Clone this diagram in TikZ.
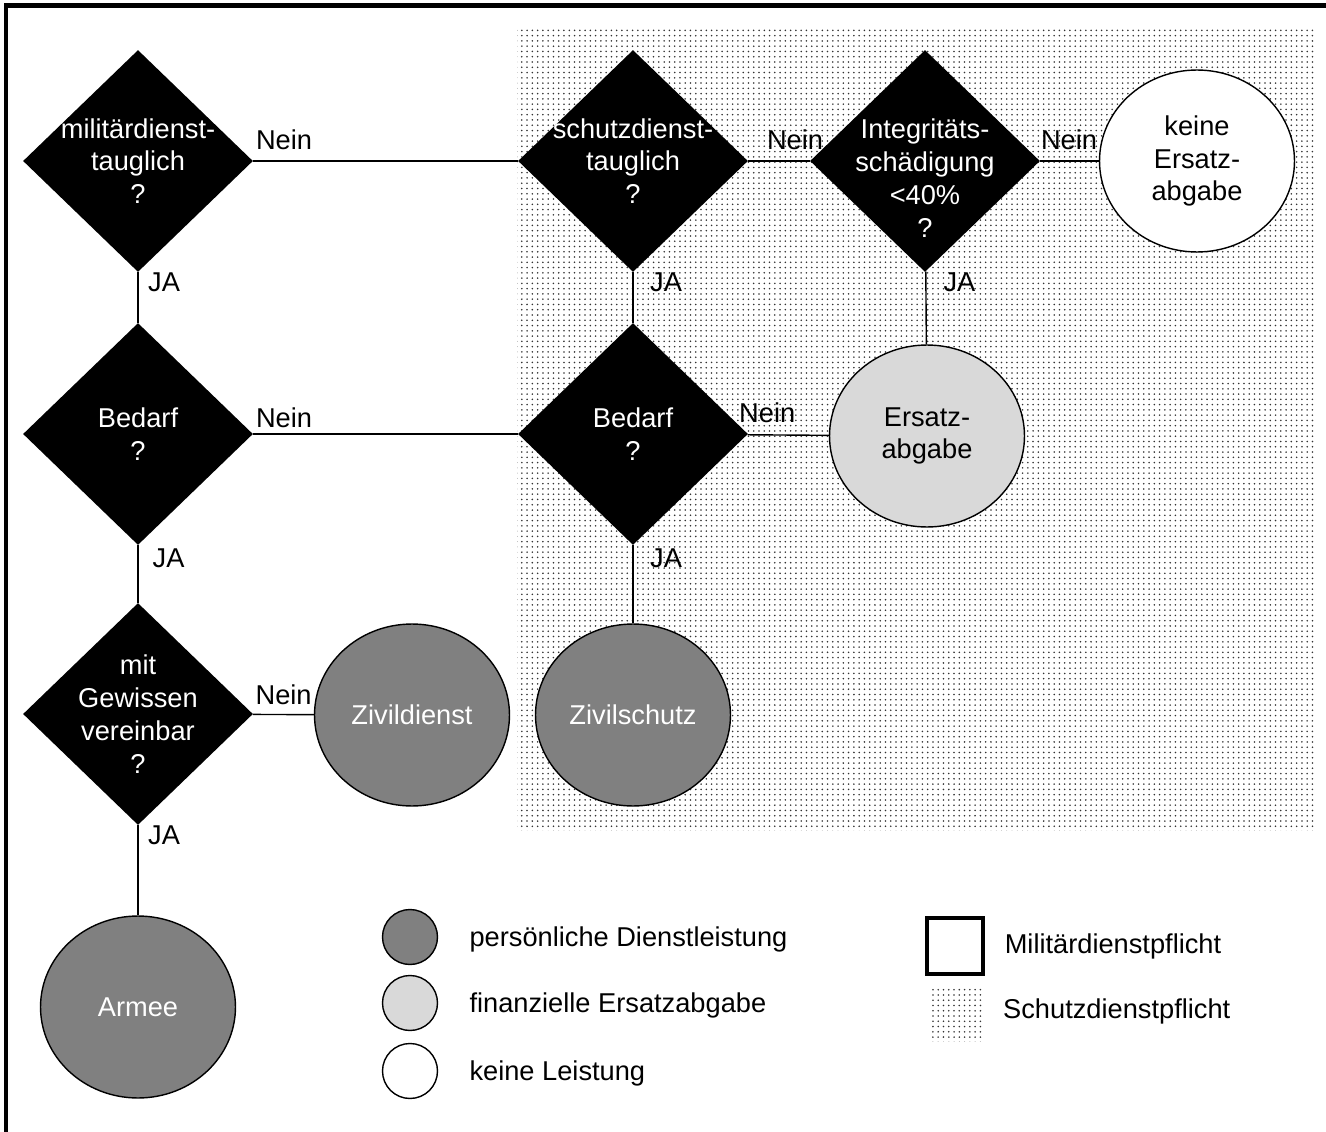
\documentclass[tikz,border=0pt]{standalone}
\usepackage{fontspec}
\setmainfont{Liberation Sans}
\usepackage{tikz}
\usetikzlibrary{shapes.geometric}
\usetikzlibrary{patterns}
\usetikzlibrary{positioning}

\begin{document}
\begin{tikzpicture}[x=0.02cm, y=-0.02cm,
every node/.style={font=\fontsize{15.5}{18.7}\selectfont},
conn/.style={line width=0.8pt},
decision/.style={diamond, fill=black, minimum width=4.6cm, minimum height=4.44cm, inner sep=0pt},
dtext/.style={text=white, align=center, inner sep=0pt},
result/.style={ellipse, draw, line width=0.8pt, minimum width=3.9cm, minimum height=3.64cm, inner sep=0pt, align=center},
personal/.style={result, fill=gray, text=white},
financial/.style={result, fill=black!15},
noservice/.style={result, fill=white},
schutzzone/.style={pattern=dots, pattern color=black!80},
neinlbl/.style={pos=0, anchor=base west, inner sep=0pt},
jalbl/.style={pos=0, anchor=north west, inner sep=0pt},
legdot/.style={circle, draw, line width=0.8pt, minimum size=1.1cm, inner sep=0pt},
legtxt/.style={inner sep=0pt}]
\useasboundingbox (0,0) rectangle (1326,1132);
\draw[line width=2.8pt] (6,1132) -- (6,5.5) -- (1326,5.5);
\fill[schutzzone] (517,27) rectangle (1315,830);

% decisions
\node[decision, label={[dtext]center:militärdienst-\\tauglich\\?}] (mil) at (138,161) {};
\node[decision, label={[dtext]center:Bedarf\\?}] (bedarfA) at (138,434) {};
\node[decision, label={[dtext]center:mit\\Gewissen\\vereinbar\\?}] (gewissen) at (138,714) {};
\node[decision, label={[dtext]center:schutzdienst-\\tauglich\\?}] (schutz) at (633,161) {};
\node[decision, label={[dtext]center:Bedarf\\?}] (bedarfB) at (633,434) {};
\node[decision, label={[dtext, yshift=-0.34cm]center:Integritäts-\\schädigung\\<40\%\\?}] (integ) at (925,161) {};

% results
\node[personal] (armee) at (138,1007) {Armee};
\node[personal] (zivildienst) at (412,715) {Zivildienst};
\node[personal] (zivilschutz) at (633,715) {Zivilschutz};
\node[financial] (ersatz) at (927,436) {Ersatz-\\abgabe};
\node[noservice] (keine) at (1197,161) {keine\\Ersatz-\\abgabe};

% Nein
\draw[conn] (mil) -- node[neinlbl, xshift=0.04cm, yshift=0.24cm] {Nein} (schutz);
\draw[conn] (schutz) -- node[neinlbl, xshift=0.36cm, yshift=0.24cm] {Nein} (integ);
\draw[conn] (integ) -- node[neinlbl, yshift=0.24cm] {Nein} (keine);
\draw[conn] (bedarfA) -- node[neinlbl, xshift=0.04cm, yshift=0.14cm] {Nein} (bedarfB);
\draw[conn] (bedarfB) -- node[neinlbl, xshift=-0.18cm, yshift=0.24cm] {Nein} (ersatz);
\draw[conn] (gewissen) -- node[neinlbl, xshift=0.04cm, yshift=0.2cm] {Nein} (zivildienst);

% JA
\draw[conn] (mil) -- node[jalbl, xshift=0.19cm] {JA} (bedarfA);
\draw[conn] (schutz) -- node[jalbl, xshift=0.33cm] {JA} (bedarfB);
\draw[conn] (integ) -- node[jalbl, xshift=0.34cm] {JA} (ersatz);
\draw[conn] (bedarfA) -- node[jalbl, xshift=0.28cm, yshift=-0.06cm] {JA} (gewissen);
\draw[conn] (bedarfB) -- node[jalbl, xshift=0.33cm, yshift=-0.06cm] {JA} (zivilschutz);
\draw[conn] (gewissen) -- node[jalbl, xshift=0.19cm] {JA} (armee);

% legend
\node[legdot, fill=gray] (leg1) at (410,937) {};
\node[legdot, fill=black!15] (leg2) at (410,1003) {};
\node[legdot, fill=white] (leg3) at (410,1071) {};
\node[legtxt, right=0.62cm of leg1, yshift=-0.05cm] (leg1txt) {persönliche Dienstleistung};
\node[legtxt, right=0.62cm of leg2, yshift=-0.05cm] (leg2txt) {finanzielle Ersatzabgabe};
\node[legtxt, right=0.62cm of leg3, yshift=-0.05cm] (leg3txt) {keine Leistung};
\node[draw, line width=2.8pt, minimum size=1.12cm, inner sep=0pt] (legmil) at (955,946) {};
\node[schutzzone, minimum size=1.1cm, inner sep=0pt] (legschutz) at (957,1014) {};
\node[legtxt, right=0.38cm of legmil] (legmiltxt) {Militärdienstpflicht};
\node[legtxt, right=0.36cm of legschutz, yshift=0.06cm] (legschutztxt) {Schutzdienstpflicht};
\end{tikzpicture}
\end{document}
